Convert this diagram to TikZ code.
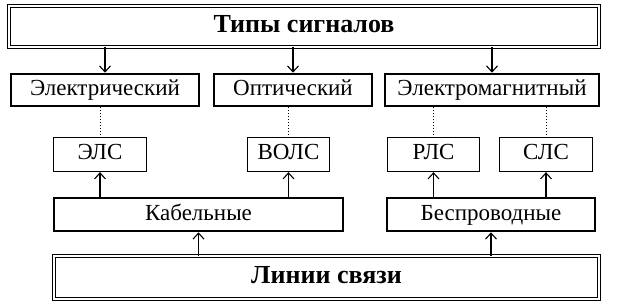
\documentclass[tikz,border=0pt]{standalone}
\usepackage{fontspec}
\setmainfont{Liberation Serif}
\usetikzlibrary{arrows.meta}
\tikzset{
  lbl/.style={font=\fontsize{23}{25}\selectfont, inner sep=0pt, text height=15pt, text depth=4pt},
  headbox/.style={draw, double, line width=1pt, double distance=2pt, inner sep=0pt,
    text height=17pt, text depth=5pt, font=\fontsize{26}{28}\selectfont\bfseries},
  midbox/.style={lbl, draw, line width=2.6pt, minimum height=32pt},
  smallbox/.style={lbl, draw, line width=1.3pt, minimum height=34pt},
  arr/.style={line width=1.1pt, -{Straight Barb[length=6pt, width=11pt, line width=1.1pt]}},
  dots/.style={line width=1pt, dotted}
}
\begin{document}
\begin{tikzpicture}[x=1pt, y=-1pt]
  \useasboundingbox (0,0) rectangle (623,307);

  % Top and bottom frames
  \node[headbox, minimum width=590pt, minimum height=41pt] (sig) at (304,26.5) {Типы сигналов};
  \node[headbox, minimum width=545pt, minimum height=43pt] (lin) at (326.5,277.5) {Линии связи};

  % Signal types
  \node[midbox, minimum width=188pt] (el) at (105,90) {Электрический};
  \node[midbox, minimum width=158pt] (opt) at (293,90) {Оптический};
  \node[midbox, minimum width=214pt] (em) at (492,90) {Электромагнитный};

  % Line kinds
  \node[smallbox, minimum width=93pt] (els) at (100,154.5) {ЭЛС};
  \node[smallbox, minimum width=82pt] (vols) at (288.5,154.5) {ВОЛС};
  \node[smallbox, minimum width=92pt] (rls) at (433.5,154.5) {РЛС};
  \node[smallbox, minimum width=93pt] (sls) at (546,154.5) {СЛС};

  % Cable / wireless
  \node[midbox, minimum width=289pt, minimum height=33pt] (kab) at (198.5,214.5) {Кабельные};
  \node[midbox, minimum width=208pt, minimum height=33pt] (besp) at (491,214.5) {Беспроводные};

  % Connectors
  \foreach \a in {el, opt, em}
    \draw[arr] (sig.south -| \a.north) -- (\a.north);
  \draw[dots] (el.south -| els.north) -- (els.north);
  \draw[dots] (opt.south -| vols.north) -- (vols.north);
  \draw[dots] (em.south -| rls.north) -- (rls.north);
  \draw[dots] (em.south -| sls.north) -- (sls.north);
  \draw[arr] (kab.north -| els.south) -- (els.south);
  \draw[arr] (kab.north -| vols.south) -- (vols.south);
  \draw[arr] (besp.north -| rls.south) -- (rls.south);
  \draw[arr] (besp.north -| sls.south) -- (sls.south);
  \draw[arr] (lin.north -| kab.south) -- (kab.south);
  \draw[arr] (lin.north -| besp.south) -- (besp.south);
\end{tikzpicture}
\end{document}
